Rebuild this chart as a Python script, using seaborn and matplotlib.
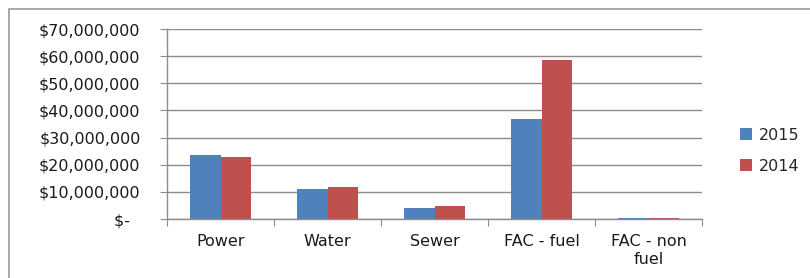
import numpy as np
import pandas as pd
import matplotlib
matplotlib.use("Agg")
import matplotlib.pyplot as plt
from matplotlib.patches import Rectangle
from matplotlib.ticker import FuncFormatter
import seaborn as sns

categories = ["Power", "Water", "Sewer", "FAC - fuel", "FAC - non\nfuel"]
vals_2015 = [23500000, 11200000, 3900000, 36700000, 400000]
vals_2014 = [23000000, 11700000, 4800000, 58600000, 400000]
years = ["2015", "2014"]
colors = ["#4F81BD", "#C0504D"]

df = pd.DataFrame({
    "category": categories * 2,
    "year": [years[0]] * len(categories) + [years[1]] * len(categories),
    "value": vals_2015 + vals_2014,
})

sns.set_style("white")
plt.rcParams["font.family"] = ["DejaVu Sans"]

fig = plt.figure(figsize=(8.1, 2.78), dpi=100)
ax = fig.add_axes([167 / 810, 1 - 219 / 278, 535 / 810, 190 / 278])

# outer chart border (Excel style)
fig.patches.append(Rectangle((9 / 810, -0.1), 1.2, 1 - 9 / 278 + 0.1,
                             transform=fig.transFigure, fill=False,
                             edgecolor="#9a9a9a", linewidth=1.2))

sns.barplot(data=df, x="category", y="value", hue="year", palette=colors,
            width=0.57, saturation=1, ax=ax, edgecolor="none")

ax.set_ylim(0, 70000000)
ax.set_xlim(-0.5, 4.5)
ax.set_yticks(np.arange(0, 70000001, 10000000))
ax.yaxis.set_major_formatter(FuncFormatter(
    lambda v, p: "$-  " if v == 0 else "${:,.0f}".format(v)))
ax.yaxis.grid(True, color="#8c8c8c", linewidth=1)
ax.set_axisbelow(True)
ax.set_xlabel("")
ax.set_ylabel("")

for s in ["top", "right"]:
    ax.spines[s].set_visible(False)
for s in ["left", "bottom"]:
    ax.spines[s].set_color("#8c8c8c")
    ax.spines[s].set_linewidth(1)

# x ticks between categories, labels centered on categories
ax.set_xticks(np.arange(-0.5, 5, 1), minor=False)
ax.set_xticklabels([])
ax.set_xticks(np.arange(0, 5), minor=True)
ax.set_xticklabels(categories, minor=True)
ax.tick_params(axis="x", which="major", direction="out", length=5,
               color="#8c8c8c", bottom=True)
ax.tick_params(axis="x", which="minor", length=0, pad=11, labelsize=11.5,
               labelcolor="#1a1a1a")
ax.tick_params(axis="y", direction="out", length=5, color="#8c8c8c",
               left=True, pad=14, labelsize=11.5, labelcolor="#1a1a1a")

handles, labels = ax.get_legend_handles_labels()
ax.legend(handles, labels, loc="center left", bbox_to_anchor=(1.045, 0.36),
          frameon=False, fontsize=11.5, handlelength=0.7, handleheight=0.7,
          handletextpad=0.45, labelspacing=1.0)

fig.savefig("out.png", dpi=100)
